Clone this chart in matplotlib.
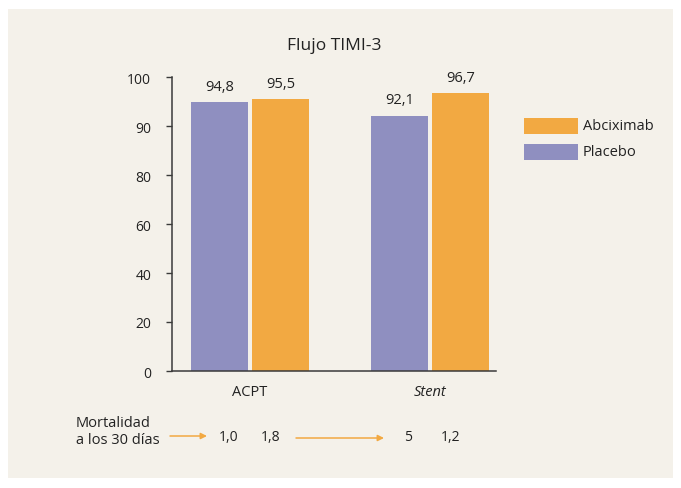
import numpy as np
import matplotlib.pyplot as plt
from matplotlib.patches import Rectangle
from matplotlib.transforms import blended_transform_factory

# TIMI-3 flow (%) by strategy
groups = ['ACPT', 'Stent']
placebo = [94.8, 92.1]
abciximab = [95.5, 96.7]
value_labels_placebo = ['94,8', '92,1']
value_labels_abcix = ['95,5', '96,7']

# 30-day mortality (%)
mort_placebo = [1.0, 5]
mort_abcix = [1.8, 1.2]
mort_labels_placebo = ['1,0', '5']
mort_labels_abcix = ['1,8', '1,2']

yticks = [0, 20, 40, 60, 80, 90, 100]

PURPLE = '#8f8fc0'
ORANGE = '#f2a942'
BG = '#f4f1ea'
DARK = '#3a3a3a'

plt.rcParams['font.family'] = ['Open Sans', 'DejaVu Sans']

# y axis is stretched above 80: ticks are evenly spaced
tick_pos = np.arange(len(yticks), dtype=float)

def fwd(v):
    return np.interp(v, yticks, tick_pos)

def inv(p):
    return np.interp(p, tick_pos, yticks)

fig = plt.figure(figsize=(6.81, 4.89), dpi=100)
fig.patch.set_facecolor('white')
fig.add_artist(Rectangle((8 / 681, 1 - 479 / 489), 665 / 681, 469 / 489,
                         transform=fig.transFigure, facecolor=BG,
                         edgecolor='none', zorder=-10))

ax = fig.add_axes([172 / 681, 1 - 372 / 489, 324 / 681, 294 / 489])
ax.set_facecolor('none')
ax.set_yscale('function', functions=(fwd, inv))

x = np.arange(len(groups))
w = 0.318
off = 0.17
b1 = ax.bar(x - off, placebo, w, color=PURPLE, zorder=2)
b2 = ax.bar(x + off, abciximab, w, color=ORANGE, zorder=2)

for rect, lab in zip(b1, value_labels_placebo):
    ax.annotate(lab, (rect.get_x() + rect.get_width() / 2, rect.get_height()),
                xytext=(0, 6), textcoords='offset points', ha='center',
                va='bottom', fontsize=10.5, color='#222222')
for rect, lab in zip(b2, value_labels_abcix):
    ax.annotate(lab, (rect.get_x() + rect.get_width() / 2, rect.get_height()),
                xytext=(0, 6), textcoords='offset points', ha='center',
                va='bottom', fontsize=10.5, color='#222222')

ax.set_xlim(-0.433, 1.367)
ax.set_ylim(0, 100)
ax.set_yticks(yticks)
ax.set_yticklabels([str(t) for t in yticks], fontsize=10, color='#222222')
ax.set_xticks(x)
ax.set_xticklabels(groups, fontsize=10.5, color='#222222')
ax.get_xticklabels()[1].set_style('italic')
ax.tick_params(axis='x', length=0, pad=9)
ax.tick_params(axis='y', length=4, width=1, color=DARK, pad=11)
for s in ['top', 'right']:
    ax.spines[s].set_visible(False)
for s in ['left', 'bottom']:
    ax.spines[s].set_color(DARK)
    ax.spines[s].set_linewidth(1.1)

fig.text(334 / 681, 1 - 46 / 489, 'Flujo TIMI-3', ha='center', va='center',
         fontsize=12.5, color='#222222')

# legend drawn as patches to the right of the plot
for i, (lab, col) in enumerate([('Abciximab', ORANGE), ('Placebo', PURPLE)]):
    yc = 127 + i * 26
    fig.add_artist(Rectangle((524 / 681, 1 - (yc + 8) / 489), 54 / 681, 16 / 489,
                             transform=fig.transFigure, facecolor=col,
                             edgecolor='none'))
    fig.text(583 / 681, 1 - yc / 489, lab, ha='left', va='center',
             fontsize=10.5, color='#222222')

# mortality row under the axis
tr = blended_transform_factory(ax.transData, ax.transAxes)
ym = -0.224
fig.text(76 / 681, 1 - 432 / 489, 'Mortalidad\na los 30 días', ha='left',
         va='center', fontsize=10.5, color='#222222', linespacing=1.2)
for xi, lab in zip(x - 0.12, mort_labels_placebo):
    ax.text(xi, ym, lab, transform=tr, ha='center', va='center',
            fontsize=10, color='#222222', clip_on=False)
for xi, lab in zip(x + 0.115, mort_labels_abcix):
    ax.text(xi, ym, lab, transform=tr, ha='center', va='center',
            fontsize=10, color='#222222', clip_on=False)

for x0, x1, yy in [(170, 207, 437), (296, 384, 439)]:
    fig.add_artist(plt.Annotation('', xy=(x1 / 681, 1 - yy / 489),
                                  xytext=(x0 / 681, 1 - yy / 489),
                                  xycoords='figure fraction',
                                  arrowprops=dict(arrowstyle='-|>', color=ORANGE,
                                                  lw=1.1, mutation_scale=9,
                                                  shrinkA=0, shrinkB=0)))

fig.savefig('out.png', dpi=100)
